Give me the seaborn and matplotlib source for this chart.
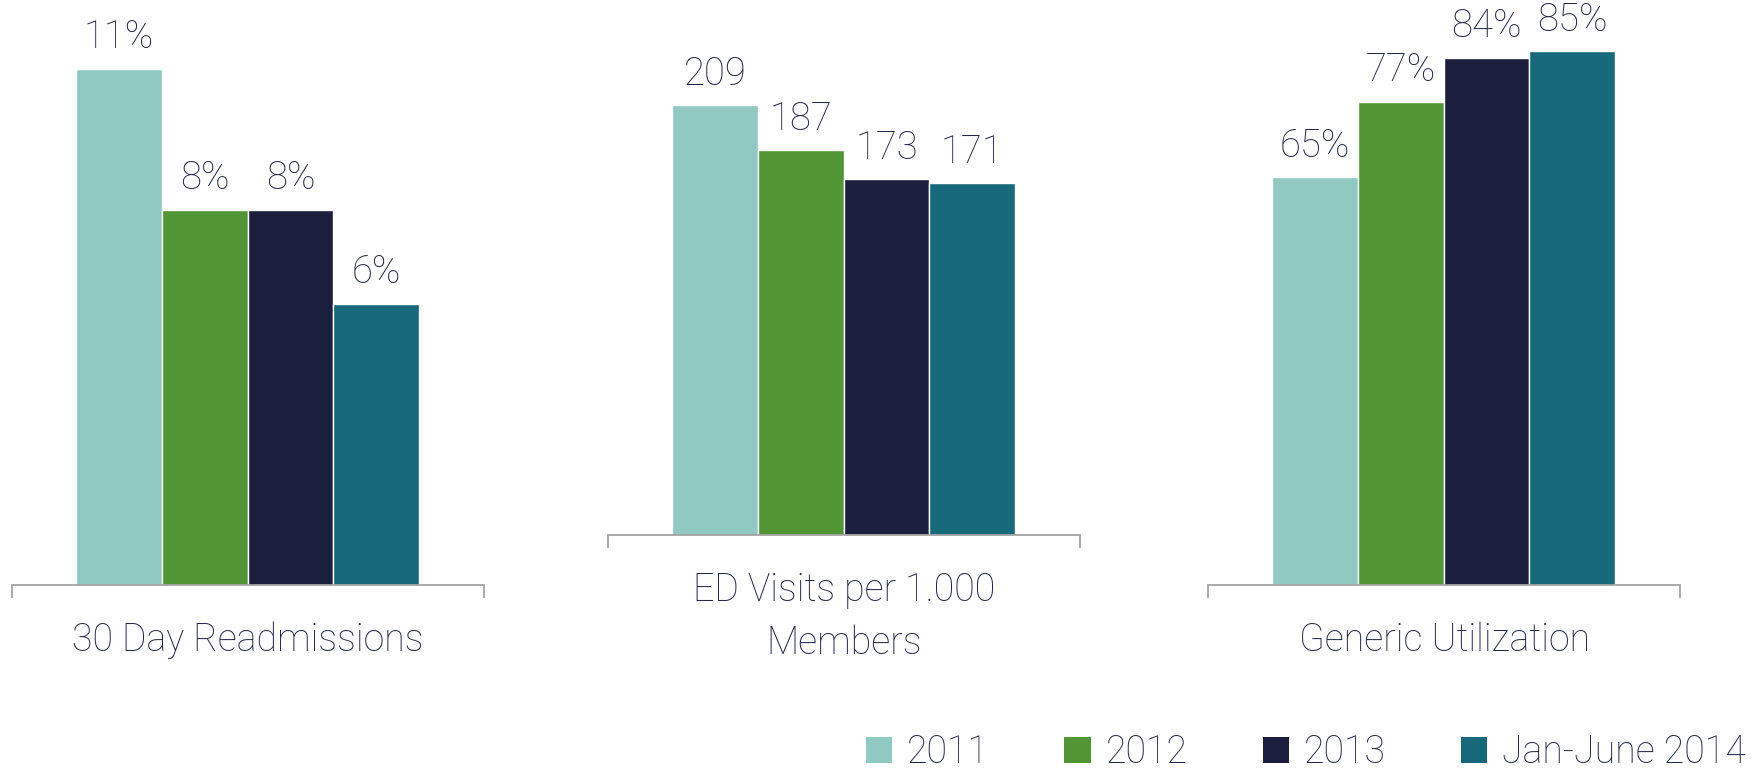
import pandas as pd
import matplotlib.pyplot as plt
import seaborn as sns
from matplotlib.patches import Patch

# data
years = ['2011', '2012', '2013', 'Jan-June 2014']
readmissions = [11, 8, 8, 6]
ed_visits = [209, 187, 173, 171]
generic_util = [65, 77, 84, 85]
metric_names = ['30 Day Readmissions', 'ED Visits per 1.000\nMembers', 'Generic Utilization']
label_formats = ['{:.0f}%', '{:.0f}', '{:.0f}%']

colors = ['#90c9c1', '#529535', '#1b1f3d', '#18687c']
text_color = '#22284a'
line_color = '#a3a3a3'

sns.set_style('white')
plt.rcParams['font.family'] = ['Roboto', 'DejaVu Sans']
plt.rcParams['font.weight'] = 'light'

fig = plt.figure(figsize=(17.6, 7.73), dpi=100)

# axes boxes (left, bottom, width, height) and y limits for each panel
boxes = [[0.0068, 0.2432, 0.2682, 0.7568],
         [0.3455, 0.3079, 0.2682, 0.6921],
         [0.6864, 0.2432, 0.2682, 0.7568]]
y_tops = [12.47, 260.1, 93.2]
x_lims = (-1.25, 4.26)

for values, name, fmt, box, y_top in zip([readmissions, ed_visits, generic_util],
                                         metric_names, label_formats, boxes, y_tops):
    ax = fig.add_axes(box)
    df = pd.DataFrame({'year': years, 'value': values})
    sns.barplot(data=df, x='year', y='value', hue='year', palette=colors,
                width=1, saturation=1, legend=False, ax=ax)

    # value labels above each bar
    for container, v in zip(ax.containers, values):
        ax.bar_label(container, labels=[fmt.format(v)], padding=9,
                     fontsize=27.5, color=text_color, fontweight='light')

    ax.set_xlim(*x_lims)
    ax.set_ylim(0, y_top)

    # only the bottom line with small end caps
    sns.despine(ax=ax, left=True)
    ax.spines['bottom'].set_color(line_color)
    ax.spines['bottom'].set_linewidth(1.3)
    ax.set_xticks(list(x_lims))
    ax.set_xticklabels(['', ''])
    ax.tick_params(axis='x', length=9.5, width=1.3, color=line_color,
                   direction='out', bottom=True)
    ax.set_yticks([])
    ax.set_ylabel('')
    ax.set_xlabel(name, fontsize=27, color=text_color, fontweight='light',
                  labelpad=13, linespacing=1.55)

handles = [Patch(facecolor=c, edgecolor='none') for c in colors]
fig.legend(handles, years, loc='lower right', bbox_to_anchor=(0.992, 0.002),
           ncol=4, frameon=False, fontsize=27, labelcolor=text_color,
           handlelength=0.7, handleheight=0.7, handletextpad=0.4,
           columnspacing=2.0, borderpad=0, borderaxespad=0)

fig.savefig('out.png', dpi=100)
